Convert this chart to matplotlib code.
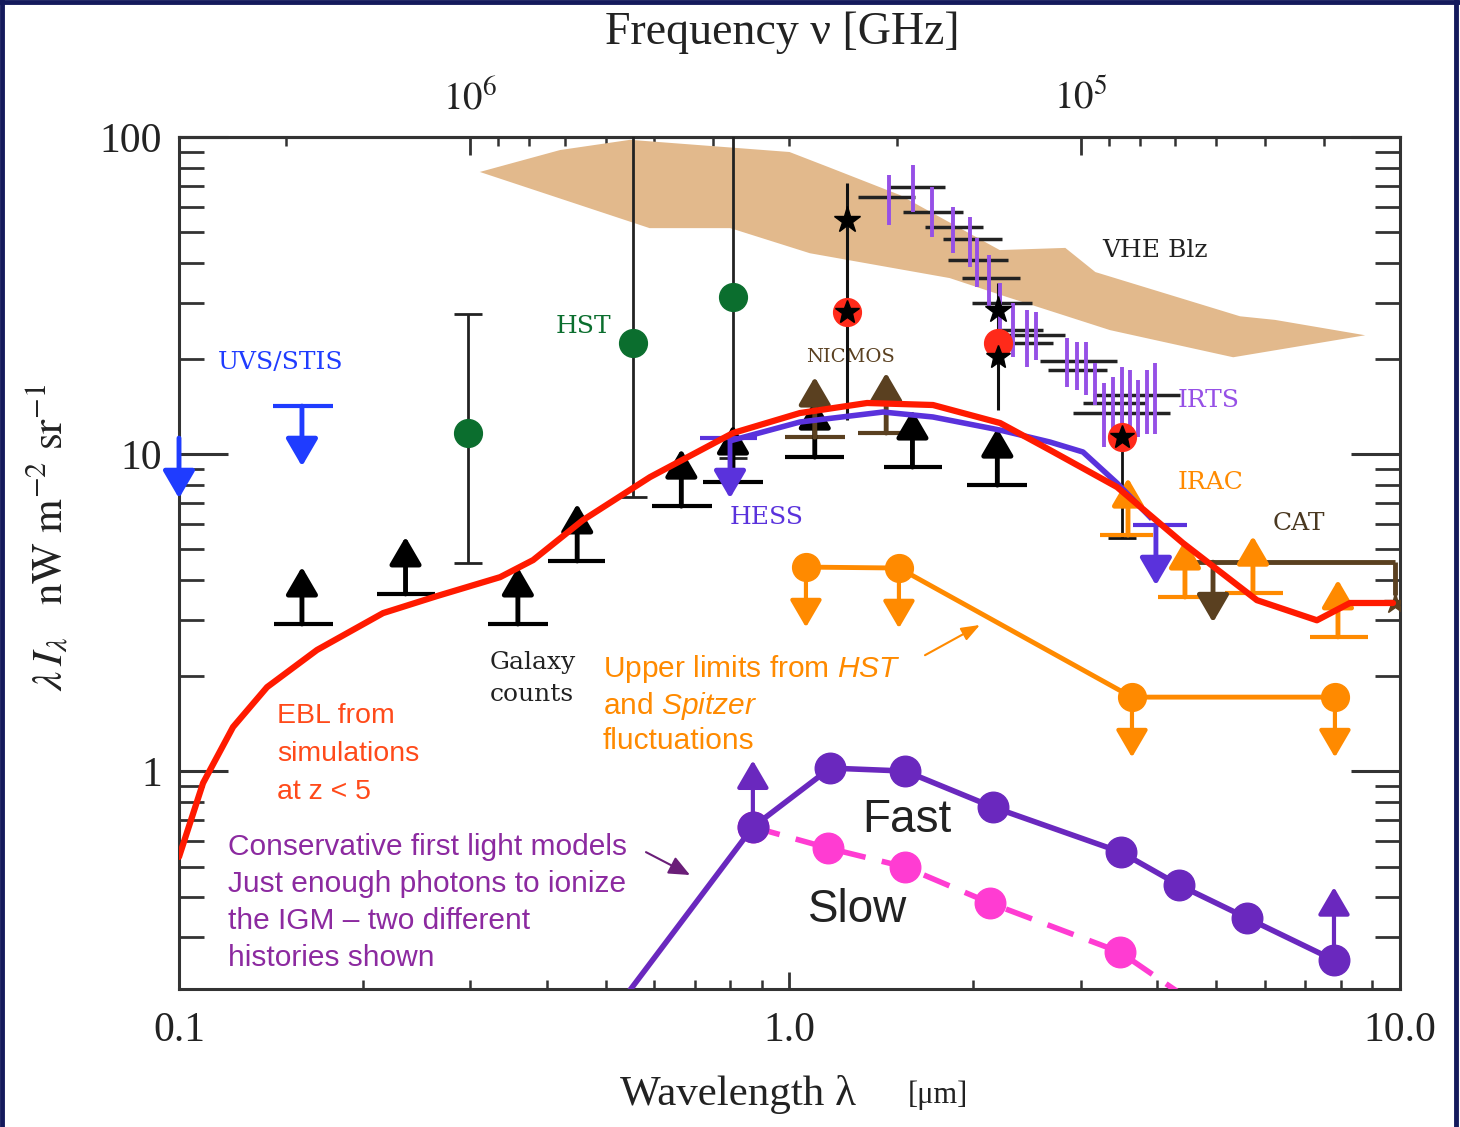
import numpy as np
import matplotlib.pyplot as plt
from matplotlib.lines import Line2D
from matplotlib.ticker import LogLocator, NullFormatter, FixedLocator, FixedFormatter

plt.rcParams['font.family'] = ['Liberation Serif', 'DejaVu Serif']
plt.rcParams['mathtext.fontset'] = 'stix'
plt.rcParams['mathtext.rm'] = 'Liberation Sans'
plt.rcParams['mathtext.it'] = 'Liberation Sans:italic'

# ---- data (wavelength in micron, nW m^-2 sr^-1) ----
# VHE blazar band (upper edge left->right, lower edge right->left)
vhe_up_lam = [0.311, 0.421, 0.548, 1.0, 1.166, 1.517, 2.21, 2.83, 3.17, 5.47, 6.24, 8.77]
vhe_up_val = [77.6, 91.0, 98.0, 89.7, 80.0, 65.6, 44.0, 44.7, 37.5, 27.2, 26.5, 23.7]
vhe_lo_lam = [8.77, 5.33, 3.35, 2.27, 1.83, 1.08, 0.80, 0.59, 0.311]
vhe_lo_val = [23.7, 20.2, 24.6, 31.3, 35.9, 43.0, 51.6, 51.6, 77.6]

# EBL from simulations (red)
ebl_lam = [0.1, 0.1095, 0.1226, 0.1394, 0.1683, 0.2159, 0.2646, 0.3357, 0.3802, 0.4589,
           0.591, 0.808, 1.04, 1.34, 1.718, 2.213, 2.672, 3.439, 4.41, 5.83, 7.31, 8.28, 9.74]
ebl_val = [0.536, 0.917, 1.377, 1.84, 2.41, 3.15, 3.565, 4.09, 4.63, 6.19,
           8.46, 11.65, 13.47, 14.49, 14.28, 12.53, 10.29, 7.87, 5.24, 3.46, 2.99, 3.39, 3.39]

# HESS upper limit curve
hess_lam = [0.808, 1.04, 1.423, 1.718, 2.213, 2.672, 3.025, 3.439, 3.895]
hess_val = [11.07, 12.62, 13.57, 13.09, 11.9, 10.91, 10.15, 8.10, 6.33]
hess_ul_lam = [0.799, 3.983]
hess_ul_lo = [0.7132, 3.653]
hess_ul_hi = [0.885, 4.478]
hess_ul_val = [11.23, 5.97]

# UVS/STIS upper limits
uvs_lam = [0.1, 0.159]
uvs_val = [11.23, 14.17]
uvs_lo = [0.1, 0.1426]
uvs_hi = [0.1, 0.1788]

# Galaxy counts (lower limits)
gal_lam = [0.159, 0.235, 0.359, 0.449, 0.665, 0.808, 1.10, 1.59, 2.19]
gal_lo = [0.143, 0.211, 0.321, 0.402, 0.596, 0.721, 0.983, 1.43, 1.95]
gal_hi = [0.179, 0.263, 0.402, 0.499, 0.746, 0.905, 1.23, 1.78, 2.45]
gal_val = [2.91, 3.62, 2.91, 4.60, 6.85, 8.16, 9.78, 9.10, 7.98]

# NICMOS lower limits
nic_lam = [1.10, 1.44]
nic_lo = [0.983, 1.295]
nic_hi = [1.233, 1.588]
nic_val = [11.3, 11.65]

# IRAC lower limits
irac_lam = [3.585, 4.444, 5.743, 7.914]
irac_lo = [3.226, 4.013, 5.168, 7.12]
irac_hi = [3.939, 4.94, 6.43, 8.86]
irac_val = [5.55, 3.54, 3.64, 2.65]

# CAT upper limit
cat_lo, cat_hi, cat_val = 4.529, 9.81, 4.56
cat_arrow_lam = 4.94
cat_end_val = 3.59
cat_star_val = 3.39

# HST points
hst_lam = [0.2975, 0.554, 0.808]
hst_val = [11.65, 22.4, 31.3]
hst_err_lo = [4.53, 7.32, 9.71]
hst_err_hi = [27.6, 300.0, 300.0]

# DIRBE-type stars
star_lam = [1.242, 2.195]
star_val = [54.7, 28.5]
star_err_lo = [12.8, 13.8]
star_err_hi = [71.6, 34.6]
red_lam = [1.242, 2.195, 3.505]
red_val = [28.1, 22.4, 11.31]
red_star_val = [28.1, 20.2, 11.31]
red_err_lo = [None, None, 5.43]
red_err_hi = [None, None, 14.5]

# IRTS (purple vertical error bars)
irts_lam = [1.455, 1.594, 1.711, 1.853, 1.976, 2.029, 2.123, 2.213, 2.323, 2.449, 2.534,
            2.848, 2.958, 3.060, 3.166, 3.275, 3.388, 3.505, 3.613, 3.724, 3.850, 3.968]
irts_lo = [52.8, 58.0, 48.4, 43.1, 38.9, 33.6, 29.1, 23.4, 20.2, 18.8, 19.8,
           16.3, 15.9, 15.4, 14.3, 10.5, 11.1, 12.5, 10.8, 11.3, 11.6, 11.6]
irts_hi = [75.9, 81.6, 69.6, 60.1, 55.9, 48.0, 42.4, 34.6, 29.9, 28.5, 28.0,
           23.2, 22.6, 22.6, 19.4, 16.7, 17.5, 18.8, 18.4, 17.1, 18.4, 19.4]
# black wavelength bins
bin_lo = [1.295, 1.450, 1.535, 1.667, 1.784, 1.818, 1.917, 1.991, 2.213, 2.237, 2.213,
          2.573, 2.651, 3.142, 3.025, 2.913]
bin_hi = [1.606, 1.797, 1.924, 2.075, 2.229, 2.280, 2.386, 2.497, 2.602, 2.827, 2.702,
          3.439, 3.312, 4.36, 3.850, 4.20]
bin_val = [64.7, 69.6, 58.0, 52.0, 47.7, 40.9, 35.9, 29.9, 24.6, 23.7, 22.4,
           19.7, 18.4, 15.4, 14.5, 13.5]

# Upper limits from HST and Spitzer fluctuations
fluc_lam = [1.064, 1.511, 3.639, 7.824]
fluc_val = [4.40, 4.37, 1.711, 1.711]

# First light models
fast_lam = [0.544, 0.871, 1.166, 1.547, 2.154, 3.491, 4.345, 5.615, 7.796]
fast_val = [0.20, 0.666, 1.022, 1.0, 0.770, 0.555, 0.437, 0.344, 0.2534]
slow_lam = [0.871, 1.157, 1.547, 2.13, 3.478, 4.345]
slow_val = [0.666, 0.5715, 0.498, 0.3835, 0.2685, 0.20]

# colours
c_vhe = '#e2b98c'
c_red = '#ff1a00'
c_hess = '#5a32dc'
c_uvs = '#1f3cff'
c_green = '#0b6e2e'
c_brown = '#5a4020'
c_orange = '#ff8a00'
c_irts = '#9650e6'
c_fast = '#6a28be'
c_slow = '#ff3cd2'
c_cons = '#8c2aa0'

fig = plt.figure(figsize=(14.6, 11.27), dpi=100)
ax = fig.add_axes([0.1226, 0.1224, 0.8363, 0.756])
ax.set_xscale('log')
ax.set_yscale('log')
ax.set_xlim(0.1, 10)
ax.set_ylim(0.2053, 100)


def arrow(x, y, sign, color, dec=0.18, lw=3.5, z=6):
    ax.annotate('', xy=(x, y * 10 ** (sign * dec)), xytext=(x, y),
                arrowprops=dict(arrowstyle='-|>,head_length=0.6,head_width=0.35',
                                color=color, lw=lw, mutation_scale=28,
                                shrinkA=0, shrinkB=0), zorder=z)


# VHE band
ax.fill(vhe_up_lam + vhe_lo_lam, vhe_up_val + vhe_lo_val, color=c_vhe, lw=0, zorder=1)

# fluctuation upper limits
ax.plot(fluc_lam, fluc_val, '-o', color=c_orange, lw=3.5, ms=20, zorder=3)
for x, y in zip(fluc_lam, fluc_val):
    arrow(x, y, -1, c_orange, dec=0.19, lw=3)

# first light models
ax.plot(slow_lam[:-1], slow_val[:-1], 'o', color=c_slow, ms=22, zorder=3)
ax.plot(slow_lam, slow_val, '--', color=c_slow, lw=4, dashes=(5, 3), zorder=3)
ax.plot(fast_lam, fast_val, '-', color=c_fast, lw=4, zorder=4)
ax.plot(fast_lam[1:], fast_val[1:], 'o', color=c_fast, ms=22, zorder=4)
arrow(fast_lam[1], fast_val[1], 1, c_fast, dec=0.21, lw=3)
arrow(fast_lam[-1], fast_val[-1], 1, c_fast, dec=0.23, lw=3)

# HST (green) with error bars
ax.errorbar(hst_lam, hst_val,
            yerr=[np.array(hst_val) - np.array(hst_err_lo), np.array(hst_err_hi) - np.array(hst_val)],
            fmt='o', color=c_green, ms=20, ecolor='#222222', elinewidth=2, capsize=10,
            capthick=2, zorder=5)

# stars
ax.vlines(star_lam, star_err_lo, star_err_hi, color='#111111', lw=2.2, zorder=5)
ax.plot(star_lam, star_val, '*', color='k', ms=20, zorder=7)
ax.errorbar(red_lam[2], red_val[2], yerr=[[red_val[2] - red_err_lo[2]], [red_err_hi[2] - red_val[2]]],
            fmt='none', ecolor='#111111', elinewidth=2, capsize=10, capthick=2, zorder=5)
ax.plot(red_lam, red_val, 'o', color='#ff2a1a', ms=20, zorder=6)
ax.plot(red_lam, red_star_val, '*', color='k', ms=18, zorder=7)

# IRTS
ax.hlines(bin_val, bin_lo, bin_hi, color='#222222', lw=2.5, zorder=5)
ax.vlines(irts_lam, irts_lo, irts_hi, color=c_irts, lw=2.8, zorder=5)

# galaxy counts
ax.hlines(gal_val, gal_lo, gal_hi, color='k', lw=3, zorder=5)
for x, y in zip(gal_lam, gal_val):
    arrow(x, y, 1, 'k', dec=0.18)

# NICMOS
ax.hlines(nic_val, nic_lo, nic_hi, color=c_brown, lw=3, zorder=5)
for x, y in zip(nic_lam, nic_val):
    arrow(x, y, 1, c_brown, dec=0.19)

# IRAC
ax.hlines(irac_val, irac_lo, irac_hi, color=c_orange, lw=3, zorder=5)
for x, y in zip(irac_lam, irac_val):
    arrow(x, y, 1, c_orange, dec=0.18)

# CAT
ax.hlines(cat_val, cat_lo, cat_hi, color=c_brown, lw=3.5, zorder=5)
ax.vlines(cat_hi, cat_end_val, cat_val, color=c_brown, lw=3.5, zorder=5)
ax.plot([cat_hi], [cat_star_val], '*', color=c_brown, ms=16, zorder=6)
arrow(cat_arrow_lam, cat_val, -1, c_brown, dec=0.19)

# UVS/STIS
ax.hlines(uvs_val[1], uvs_lo[1], uvs_hi[1], color=c_uvs, lw=3, zorder=5)
for x, y in zip(uvs_lam, uvs_val):
    arrow(x, y, -1, c_uvs, dec=0.19)

# EBL and HESS curves
ax.plot(hess_lam, hess_val, color=c_hess, lw=4, zorder=6)
ax.hlines(hess_ul_val, hess_ul_lo, hess_ul_hi, color=c_hess, lw=3, zorder=6)
for x, y in zip(hess_ul_lam, hess_ul_val):
    arrow(x, y, -1, c_hess, dec=0.19)
ax.plot(ebl_lam, ebl_val, color=c_red, lw=4.5, zorder=8, solid_capstyle='round')

# ---- labels inside the plot ----
ser = ['DejaVu Serif']
ax.text(0.1159, 19.4, 'UVS/STIS', color=c_uvs, fontsize=18, family=ser, va='center', ha='left')
ax.text(0.459, 25.2, 'HST', color=c_green, fontsize=18, family=ser, va='center', ha='center')
ax.text(1.256, 20.2, 'NICMOS', color=c_brown, fontsize=14, family=ser, va='center', ha='center')
ax.text(3.968, 44.0, 'VHE Blz', color='#222222', fontsize=18, family=ser, va='center', ha='center')
ax.text(4.33, 14.8, 'IRTS', color=c_irts, fontsize=18, family=ser, va='center', ha='left')
ax.text(0.799, 6.33, 'HESS', color=c_hess, fontsize=18, family=ser, va='center', ha='left')
ax.text(4.33, 8.16, 'IRAC', color=c_orange, fontsize=18, family=ser, va='center', ha='left')
ax.text(6.19, 6.06, 'CAT', color='#4a3820', fontsize=18, family=ser, va='center', ha='left')
ax.text(0.3231, 1.965, 'Galaxy\ncounts', color='#222222', fontsize=18, family=ser,
        va='center', ha='left', linespacing=1.5)

sans = ['Liberation Sans', 'DejaVu Sans']
ax.text(0.4948, 1.627, 'Upper limits from $\\mathit{HST}$\nand $\\mathit{Spitzer}$\nfluctuations',
        color=c_orange, fontsize=21.5, family=sans, va='center', ha='left', linespacing=1.2,
        math_fontfamily='custom')
ax.annotate('', xy=(2.051, 2.89), xytext=(1.667, 2.32),
            arrowprops=dict(arrowstyle='-|>,head_length=0.8,head_width=0.3', color=c_orange,
                            lw=1.5, mutation_scale=14, shrinkA=0, shrinkB=0))
ax.text(0.1447, 1.13, 'EBL from\nsimulations\nat z < 5', color='#ff4a1a', fontsize=20.5,
        family=sans, va='center', ha='left', linespacing=1.6)
ax.text(0.1203, 0.385, 'Conservative first light models\nJust enough photons to ionize\n'
        'the IGM \u2013 two different\nhistories shown', color=c_cons, fontsize=21.5,
        family=sans, va='center', ha='left', linespacing=1.4)
ax.annotate('', xy=(0.6871, 0.47), xytext=(0.582, 0.555),
            arrowprops=dict(arrowstyle='-|>,head_length=0.8,head_width=0.35', color='#6a1e78',
                            lw=1.5, mutation_scale=16, shrinkA=0, shrinkB=0))
ax.text(1.315, 0.7004, 'Fast', color='#222222', fontsize=33, family=sans, va='center', ha='left')
ax.text(1.072, 0.3643, 'Slow', color='#222222', fontsize=33, family=sans, va='center', ha='left')

# ---- axes styling ----
for s in ax.spines.values():
    s.set_linewidth(2.2)
    s.set_color('#333333')

ax.xaxis.set_major_locator(FixedLocator([0.1, 1.0, 10.0]))
ax.xaxis.set_major_formatter(FixedFormatter(['0.1', '1.0', '10.0']))
ax.xaxis.set_minor_locator(LogLocator(subs=np.arange(2, 10)))
ax.xaxis.set_minor_formatter(NullFormatter())
ax.yaxis.set_major_locator(FixedLocator([1, 10, 100]))
ax.yaxis.set_major_formatter(FixedFormatter(['1', '10', '100']))
ax.yaxis.set_minor_locator(LogLocator(subs=np.arange(2, 10)))
ax.yaxis.set_minor_formatter(NullFormatter())

ax.tick_params(axis='x', which='major', direction='in', length=12, width=2, labelsize=30,
               pad=16, top=False, colors='#333333', labelcolor='#222222')
ax.tick_params(axis='x', which='minor', direction='in', length=6.5, width=1.8, top=False,
               colors='#333333')
ax.tick_params(axis='y', which='major', direction='in', length=35, width=2.2, labelsize=30,
               pad=12, right=True, colors='#333333', labelcolor='#222222')
ax.tick_params(axis='y', which='minor', direction='in', length=18, width=2, right=True,
               colors='#333333')

sec = ax.secondary_xaxis('top', functions=(lambda x: 3e5 / np.maximum(x, 1e-12),
                                            lambda x: 3e5 / np.maximum(x, 1e-12)))
sec.xaxis.set_major_locator(FixedLocator([1e5, 1e6]))
sec.xaxis.set_major_formatter(FixedFormatter([r'$10^5$', r'$10^6$']))
sec.xaxis.set_minor_locator(LogLocator(subs=np.arange(2, 10)))
sec.xaxis.set_minor_formatter(NullFormatter())
sec.tick_params(which='major', direction='in', length=13, width=2, labelsize=28, pad=14,
                colors='#333333', labelcolor='#222222')
sec.tick_params(which='minor', direction='in', length=6.5, width=1.8, colors='#333333')
sec.spines['top'].set_linewidth(2.2)

# axis titles
fig.text(738 / 1460, 1 - 1095 / 1127, 'Wavelength \u03bb', fontsize=31, ha='center', va='center',
         color='#222222')
fig.text(938 / 1460, 1 - 1095 / 1127, '[\u03bcm]', fontsize=22, ha='center', va='center',
         color='#222222')
fig.text(782 / 1460, 1 - 33 / 1127, 'Frequency \u03bd [GHz]', fontsize=33, ha='center',
         va='center', color='#222222')
fig.text(48 / 1460, 1 - 537 / 1127,
         r'$\lambda\, I_\lambda\ \ \ \mathrm{nW\ m^{-2}\ sr^{-1}}$', fontsize=31,
         rotation=90, ha='center', va='center', color='#222222')

# navy frame around the picture
for xs, ys in [([0.0015, 0.0015], [0, 1]), ([0, 1], [0.998, 0.998]), ([0.9975, 0.9975], [0, 1])]:
    fig.add_artist(Line2D(xs, ys, transform=fig.transFigure, color='#141a5c', lw=3.5))

fig.savefig('out.png', dpi=100)
